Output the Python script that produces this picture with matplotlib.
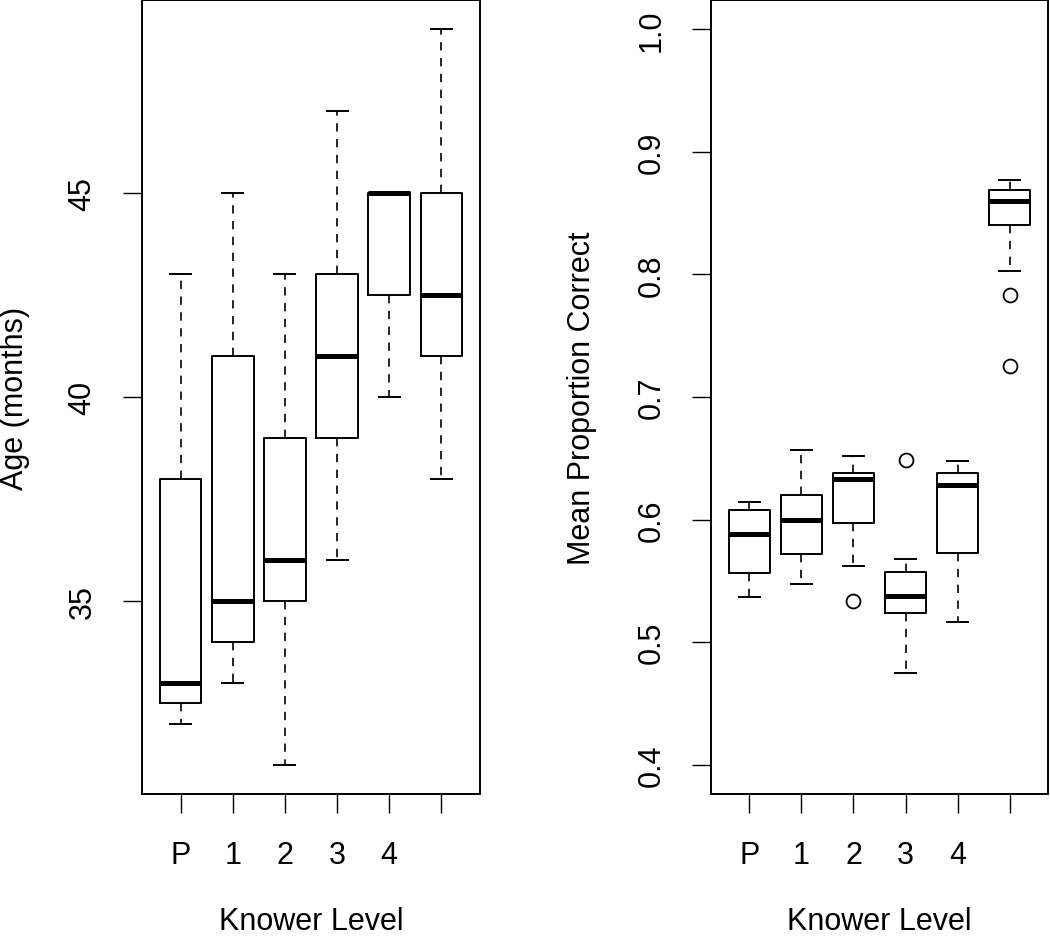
import matplotlib
matplotlib.use('Agg')
import matplotlib.pyplot as plt

plt.rcParams['font.family'] = ['Liberation Sans', 'DejaVu Sans']

# group labels (last group has no label in the original)
groups = ['P', '1', '2', '3', '4', '']

# Age (months) box stats
age_whislo = [32, 33, 31, 36, 40, 38]
age_q1 = [32.5, 34, 35, 39, 42.5, 41]
age_med = [33, 35, 36, 41, 45, 42.5]
age_q3 = [38, 41, 39, 43, 45, 45]
age_whishi = [43, 45, 43, 47, 45, 49]
age_fliers = [[], [], [], [], [], []]

# Mean proportion correct box stats
prop_whislo = [0.537, 0.547, 0.562, 0.4745, 0.5166, 0.8026]
prop_q1 = [0.5563, 0.5715, 0.597, 0.5234, 0.5723, 0.8404]
prop_med = [0.5878, 0.5995, 0.6327, 0.5375, 0.628, 0.8597]
prop_q3 = [0.6077, 0.6197, 0.6378, 0.5573, 0.6381, 0.8687]
prop_whishi = [0.614, 0.657, 0.6515, 0.5677, 0.648, 0.8774]
prop_fliers = [[], [], [0.5334], [0.6484], [], [0.7836, 0.7249]]

FS = 22


def make_stats(lo, q1, med, q3, hi, fl):
    return [dict(whislo=a, q1=b, med=c, q3=d, whishi=e, fliers=f)
            for a, b, c, d, e, f in zip(lo, q1, med, q3, hi, fl)]


def draw_box(ax, stats):
    ax.bxp(stats, positions=range(1, len(stats) + 1), widths=0.8,
           showfliers=True, patch_artist=False,
           boxprops=dict(color='black', linewidth=1.4),
           medianprops=dict(color='black', linewidth=3.6, solid_capstyle='butt'),
           whiskerprops=dict(color='black', linewidth=1.2, linestyle=(0, (5, 4.5))),
           capprops=dict(color='black', linewidth=1.4),
           capwidths=0.4,
           flierprops=dict(marker='o', markerfacecolor='none', markeredgecolor='black',
                           markersize=10, markeredgewidth=1.3))
    ax.set_xlim(0.26, 6.74)
    ax.set_xticks(range(1, len(groups) + 1))
    ax.set_xticklabels(groups)
    ax.tick_params(axis='x', length=14, width=1.0, pad=19, labelsize=FS)
    ax.tick_params(axis='y', length=14, width=1.0, pad=18, labelsize=FS)
    for s in ax.spines.values():
        s.set_linewidth(1.4)
    ax.set_xlabel('Knower Level', fontsize=FS, va='center')
    ax.xaxis.set_label_coords(0.5, -0.160)


fig = plt.figure(figsize=(10.5, 9.37), dpi=100)
ax1 = fig.add_axes([142 / 1050, 1 - 795 / 937, 338 / 1050, 794 / 937])
ax2 = fig.add_axes([711 / 1050, 1 - 795 / 937, 337 / 1050, 794 / 937])

draw_box(ax1, make_stats(age_whislo, age_q1, age_med, age_q3, age_whishi, age_fliers))
ax1.set_ylim(30.28, 49.72)
ax1.set_yticks([35, 40, 45])
ax1.set_yticklabels(['35', '40', '45'], rotation=90, va='center')
ax1.set_ylabel('Age (months)', fontsize=FS, va='center')
ax1.yaxis.set_label_coords(-0.375, 0.5)

draw_box(ax2, make_stats(prop_whislo, prop_q1, prop_med, prop_q3, prop_whishi, prop_fliers))
ax2.set_ylim(0.376, 1.024)
ax2.set_yticks([0.4, 0.5, 0.6, 0.7, 0.8, 0.9, 1.0])
ax2.set_yticklabels(['0.4', '0.5', '0.6', '0.7', '0.8', '0.9', '1.0'], rotation=90, va='center')
ax2.set_ylabel('Mean Proportion Correct', fontsize=FS, va='center')
ax2.yaxis.set_label_coords(-0.383, 0.5)

fig.savefig('out.png', dpi=100)
